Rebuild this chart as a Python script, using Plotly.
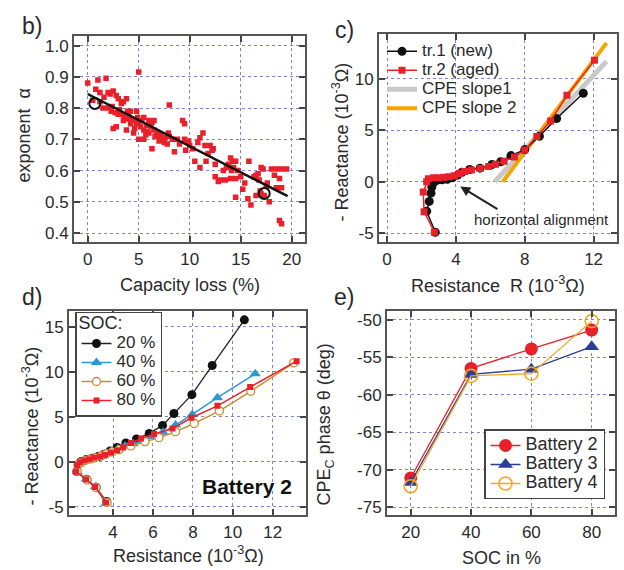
import plotly.graph_objects as go

# ---------------- Panel b data ----------------
b_loss = [0.0, 1.0, 1.8, 0.8, 1.2, 2.0, 2.5, 2.2, 2.8, 3.0, 3.5, 3.8, 3.3, 4.2, 4.8, 5.0, 8.0,
          1.2, 1.5, 2.0, 2.3, 2.7, 3.0, 3.3, 3.6, 4.0, 4.3, 4.5, 4.8, 5.0, 5.3, 5.5, 6.0, 6.3,
          6.5, 5.2, 5.5, 5.8, 6.0, 6.5, 6.8, 7.0, 7.3, 7.6, 8.0, 7.5, 7.8, 2.5, 2.8, 3.8, 4.5,
          5.0, 5.5, 6.3, 4.2, 3.5, 4.6, 5.8, 6.6, 7.0, 8.5, 9.3, 9.5, 9.5, 9.8, 10.0, 9.6, 10.3,
          9.0, 8.8, 11.0, 11.3, 11.5, 12.0, 12.3, 11.8, 11.0, 11.6, 12.5, 12.5, 12.8, 13.0, 13.5,
          13.3, 13.8, 14.0, 14.2, 13.8, 14.5, 14.3, 14.7, 14.5, 15.0, 14.0, 15.2, 14.5, 15.7,
          16.0, 15.8, 16.5, 16.7, 17.0, 16.8, 16.5, 17.0, 17.3, 17.8, 17.2, 18.0, 18.5, 19.0,
          19.5, 18.8, 18.5, 19.0, 18.8, 19.0, 17.5, 16.3, 10.5, 1.6, 2.4, 3.1, 4.0, 4.9, 6.2,
          7.2, 8.3, 9.9, 10.8, 12.2, 13.6, 14.1, 15.4, 16.9, 17.6, 18.3, 0.5, 3.9, 5.7, 7.9]
b_alpha = [0.88, 0.89, 0.895, 0.86, 0.85, 0.85, 0.855, 0.845, 0.84, 0.83, 0.82, 0.83, 0.815, 0.79,
           0.79, 0.915, 0.81, 0.82, 0.80, 0.80, 0.79, 0.785, 0.78, 0.78, 0.775, 0.78, 0.765, 0.76,
           0.75, 0.755, 0.76, 0.77, 0.76, 0.755, 0.76, 0.74, 0.73, 0.725, 0.72, 0.73, 0.72, 0.71,
           0.70, 0.705, 0.71, 0.69, 0.685, 0.735, 0.74, 0.73, 0.72, 0.70, 0.70, 0.67, 0.75, 0.76,
           0.735, 0.745, 0.71, 0.695, 0.66, 0.76, 0.75, 0.70, 0.69, 0.68, 0.665, 0.67, 0.685, 0.70,
           0.705, 0.72, 0.68, 0.68, 0.67, 0.655, 0.61, 0.63, 0.62, 0.58, 0.565, 0.57, 0.57, 0.60,
           0.62, 0.64, 0.63, 0.615, 0.63, 0.61, 0.60, 0.575, 0.58, 0.575, 0.54, 0.515, 0.51, 0.49,
           0.63, 0.585, 0.59, 0.61, 0.57, 0.52, 0.525, 0.52, 0.50, 0.605, 0.605, 0.605, 0.605,
           0.605, 0.575, 0.545, 0.545, 0.44, 0.43, 0.55, 0.58, 0.63, 0.835, 0.805, 0.795, 0.765,
           0.77, 0.74, 0.715, 0.70, 0.695, 0.69, 0.665, 0.61, 0.60, 0.56, 0.535, 0.56, 0.585,
           0.825, 0.79, 0.715, 0.72]
fit_loss = [0.0, 19.6]
fit_alpha = [0.845, 0.518]
mark_loss = [0.7, 17.3]
mark_alpha = [0.815, 0.527]

# ---------------- Panel c data ----------------
tr1_R = [2.8, 2.3, 2.45, 2.55, 2.6, 2.7, 2.9, 3.2, 3.5, 3.8, 4.1, 4.35, 4.8, 5.4, 6.1, 6.6, 7.2,
         8.0, 8.85, 9.85, 11.4]
tr1_X = [-4.9, -2.85, -1.9, -1.1, -0.5, -0.1, 0.15, 0.2, 0.25, 0.4, 0.65, 0.93, 1.2, 1.33, 1.68,
         1.95, 2.55, 3.13, 4.43, 6.15, 8.6]
tr2_R = [2.75, 2.15, 2.1, 2.3, 2.4, 2.7, 3.0, 3.3, 3.6, 3.9, 4.2, 4.5, 4.9, 5.4, 5.9, 6.3, 6.8,
         7.4, 8.0, 8.7, 9.5, 10.45, 12.05]
tr2_X = [-4.9, -2.9, -1.0, 0.0, 0.3, 0.4, 0.4, 0.45, 0.5, 0.6, 0.8, 1.0, 1.15, 1.3, 1.5, 1.7, 2.0,
         2.4, 3.1, 4.4, 5.9, 8.4, 11.8]
cpe1_R = [6.25, 12.75]
cpe1_X = [0.0, 11.7]
cpe2_R = [6.72, 12.75]
cpe2_X = [0.0, 13.5]

# ---------------- Panel d data ----------------
soc20_R = [3.68, 3.15, 2.68, 2.18, 2.25, 2.4, 2.65, 2.95, 3.25, 3.55, 3.85, 4.2, 4.64, 5.17, 5.81,
           6.48, 7.05, 7.95, 8.97, 10.58]
soc20_X = [-4.4, -2.83, -1.95, -1.07, -0.3, 0.05, 0.25, 0.4, 0.6, 0.85, 1.2, 1.6, 2.1, 2.54, 3.16,
           4.05, 5.37, 7.46, 10.7, 15.77]
soc40_R = [3.65, 3.12, 2.65, 2.2, 2.28, 2.45, 2.7, 3.0, 3.3, 3.6, 3.9, 4.25, 4.6, 5.0, 5.5, 6.0,
           6.5, 7.13, 7.97, 9.23, 11.12]
soc40_X = [-4.6, -2.8, -1.9, -1.1, -0.25, 0.05, 0.25, 0.4, 0.6, 0.85, 1.15, 1.45, 1.75, 2.0, 2.35,
           2.8, 3.3, 4.08, 5.26, 7.13, 9.78]
soc60_R = [3.7, 3.15, 2.7, 2.2, 2.25, 2.4, 2.6, 2.85, 3.1, 3.4, 3.65, 3.95, 4.3, 4.89, 5.6, 6.3,
           7.13, 8.07, 9.33, 10.9, 13.05]
soc60_X = [-4.5, -2.85, -2.0, -1.05, -0.3, -0.05, 0.15, 0.3, 0.45, 0.65, 0.9, 1.1, 1.35, 1.77,
           2.25, 2.69, 3.35, 4.27, 5.66, 7.83, 10.99]
soc80_R = [3.65, 3.1, 2.65, 2.15, 2.2, 2.35, 2.55, 2.8, 3.05, 3.35, 3.6, 3.9, 4.2, 4.5, 4.9, 5.4,
           6.05, 6.98, 7.93, 9.23, 10.87, 13.2]
soc80_X = [-4.5, -2.8, -1.95, -1.1, -0.35, -0.05, 0.15, 0.3, 0.45, 0.6, 0.8, 1.05, 1.3, 1.6, 2.1,
           2.6, 3.09, 3.7, 4.9, 6.22, 8.3, 11.18]

# ---------------- Panel e data ----------------
soc_levels = [20, 40, 60, 80]
batt2_phase = [-71.1, -56.5, -53.9, -51.4]
batt3_phase = [-71.7, -57.3, -56.6, -53.6]
batt4_phase = [-72.2, -57.5, -57.2, -50.2]

FONT = "Liberation Sans, Arial, Helvetica, sans-serif"
TXT = "#2a2a2a"
W, H = 624, 570
TICK = 17
TITLE = 18


def big(t, size):
    return f'<span style="font-size:{size}px">{t}</span>'


fig = go.Figure()

# Panel b
fig.add_trace(go.Scatter(x=b_loss, y=b_alpha, mode="markers", xaxis="x", yaxis="y",
                         marker=dict(symbol="square", size=5.5, color="#e8202a"), showlegend=False))
fig.add_trace(go.Scatter(x=fit_loss, y=fit_alpha, mode="lines", xaxis="x", yaxis="y",
                         line=dict(color="#111", width=2.5), showlegend=False))
fig.add_trace(go.Scatter(x=mark_loss, y=mark_alpha, mode="markers", xaxis="x", yaxis="y",
                         marker=dict(symbol="circle-open", size=11, color="#111", line=dict(width=2)),
                         showlegend=False))

# Panel c
fig.add_trace(go.Scatter(x=cpe1_R, y=cpe1_X, mode="lines", xaxis="x2", yaxis="y2",
                         line=dict(color="#c9c9c9", width=5), name=big("CPE slope1", 17),
                         legend="legend", legendrank=3))
fig.add_trace(go.Scatter(x=cpe2_R, y=cpe2_X, mode="lines", xaxis="x2", yaxis="y2",
                         line=dict(color="#f7a400", width=4), name=big("CPE slope 2", 17),
                         legend="legend", legendrank=4))
fig.add_trace(go.Scatter(x=tr1_R, y=tr1_X, mode="lines+markers", xaxis="x2", yaxis="y2",
                         line=dict(color="#111", width=1.5),
                         marker=dict(symbol="circle", size=9, color="#111"),
                         name=big("tr.1 (new)", 17), legend="legend", legendrank=1))
fig.add_trace(go.Scatter(x=tr2_R, y=tr2_X, mode="lines+markers", xaxis="x2", yaxis="y2",
                         line=dict(color="#e8202a", width=1.5),
                         marker=dict(symbol="square", size=7, color="#e8202a"),
                         name=big("tr.2 (aged)", 17), legend="legend", legendrank=2))

# Panel d
fig.add_trace(go.Scatter(x=soc20_R, y=soc20_X, mode="lines+markers", xaxis="x3", yaxis="y3",
                         line=dict(color="#222", width=1.3),
                         marker=dict(symbol="circle", size=9, color="#111"),
                         name=big("20 %", 17), legend="legend2"))
fig.add_trace(go.Scatter(x=soc40_R, y=soc40_X, mode="lines+markers", xaxis="x3", yaxis="y3",
                         line=dict(color="#2a98d6", width=1.5),
                         marker=dict(symbol="triangle-up", size=10, color="#2a98d6"),
                         name=big("40 %", 17), legend="legend2"))
fig.add_trace(go.Scatter(x=soc60_R, y=soc60_X, mode="lines+markers", xaxis="x3", yaxis="y3",
                         line=dict(color="#d08a2c", width=1.5),
                         marker=dict(symbol="circle", size=8, color="white",
                                     line=dict(color="#d08a2c", width=1.3)),
                         name=big("60 %", 17), legend="legend2"))
fig.add_trace(go.Scatter(x=soc80_R, y=soc80_X, mode="lines+markers", xaxis="x3", yaxis="y3",
                         line=dict(color="#e8202a", width=1.5),
                         marker=dict(symbol="square", size=6, color="#e8202a"),
                         name=big("80 %", 17), legend="legend2"))

# Panel e
fig.add_trace(go.Scatter(x=soc_levels, y=batt2_phase, mode="lines+markers", xaxis="x4", yaxis="y4",
                         line=dict(color="#e8202a", width=1.3),
                         marker=dict(symbol="circle", size=13, color="#e8202a"),
                         name=big("Battery 2", 18), legend="legend3"))
fig.add_trace(go.Scatter(x=soc_levels, y=batt3_phase, mode="lines+markers", xaxis="x4", yaxis="y4",
                         line=dict(color="#2b3f96", width=1.3),
                         marker=dict(symbol="triangle-up", size=13, color="#2b3f96"),
                         name=big("Battery 3", 18), legend="legend3"))
fig.add_trace(go.Scatter(x=soc_levels, y=batt4_phase, mode="lines+markers", xaxis="x4", yaxis="y4",
                         line=dict(color="#f5a623", width=1.3),
                         marker=dict(symbol="circle", size=13, color="rgba(255,255,255,0)",
                                     line=dict(color="#f5a623", width=1.6)),
                         name=big("Battery 4", 18), legend="legend3"))


def ax(domain, rng, tickvals, ticktext, anchor):
    return dict(domain=domain, range=rng, tickvals=tickvals, ticktext=ticktext, anchor=anchor,
                showline=True, linecolor="#555", linewidth=2, mirror="ticks",
                ticks="inside", ticklen=6, tickwidth=1.5, tickcolor="#444",
                showgrid=True, gridcolor="#7f83d2", griddash="dot", gridwidth=1,
                zeroline=False, tickfont=dict(family=FONT, size=TICK, color=TXT))


def px(v):
    return v / W


def py(v):
    return 1 - v / H


bx = [px(74), px(305)]
by = [py(243), py(36)]
cx = [px(379), px(617)]
cy = [py(243), py(34)]
dx = [px(69), px(306)]
dy = [py(517), py(312)]
ex = [px(387), px(615)]
ey = [py(517), py(312)]

layout = dict(
    width=W, height=H, margin=dict(l=0, r=0, t=0, b=0),
    paper_bgcolor="white", plot_bgcolor="white",
    font=dict(family=FONT, size=16, color=TXT),
    xaxis=ax(bx, [-1.34, 21.3], [0, 5, 10, 15, 20], ["0", "5", "10", "15", "20"], "y"),
    yaxis=ax(by, [0.371, 1.031], [0.4, 0.5, 0.6, 0.7, 0.8, 0.9, 1.0],
             ["0.4", "0.5", "0.6", "0.7", "0.8", "0.9", "1.0"], "x"),
    xaxis2=ax(cx, [-0.47, 13.36], [0, 4, 8, 12], ["0", "4", "8", "12"], "y2"),
    yaxis2=ax(cy, [-5.86, 14.37], [-5, 0, 5, 10], ["-5", "0", "5", "10"], "x2"),
    xaxis3=ax(dx, [1.79, 13.67], [4, 6, 8, 10, 12], ["4", "6", "8", "10", "12"], "y3"),
    yaxis3=ax(dy, [-5.92, 16.76], [-5, 0, 5, 10, 15], ["-5", "0", "5", "10", "15"], "x3"),
    xaxis4=ax(ex, [12.13, 87.74], [20, 40, 60, 80], ["20", "40", "60", "80"], "y4"),
    yaxis4=ax(ey, [-76.06, -48.84], [-75, -70, -65, -60, -55, -50],
              ["-75", "-70", "-65", "-60", "-55", "-50"], "x4"),
    legend=dict(x=px(382), y=py(37), xanchor="left", yanchor="top", bgcolor="rgba(255,255,255,0)",
                borderwidth=0, font=dict(family=FONT, size=11.5, color=TXT),
                traceorder="normal", itemwidth=30),
    legend2=dict(x=px(75), y=py(313), xanchor="left", yanchor="top", bgcolor="white",
                 bordercolor="#444", borderwidth=1.5, font=dict(family=FONT, size=10.5, color=TXT),
                 title=dict(text=big("SOC:", 18), font=dict(family=FONT, size=12, color=TXT)),
                 itemwidth=30),
    legend3=dict(x=px(605), y=py(431), xanchor="right", yanchor="top", bgcolor="white",
                 bordercolor="#444", borderwidth=1.5, font=dict(family=FONT, size=11.5, color=TXT),
                 itemwidth=30),
)
fig.update_layout(**layout)

annots = []


def paper_text(x, y, text, size=TITLE, angle=0, **kw):
    annots.append(dict(x=px(x), y=py(y), xref="paper", yref="paper", text=text, showarrow=False,
                       textangle=angle, xanchor="center", yanchor="middle",
                       font=dict(family=FONT, size=size, color=TXT), **kw))


paper_text(32, 26, "b)", size=23)
paper_text(344, 30, "c)", size=23)
paper_text(32, 298, "d)", size=23)
paper_text(344, 298, "e)", size=23)

paper_text(190, 286, "Capacity loss (%)")
paper_text(24, 136, "exponent  α", angle=-90)
paper_text(498, 285, "Resistance  R (10<sup>-3</sup>Ω)")
paper_text(341, 142, "- Reactance (10<sup>-3</sup>Ω)", angle=-90)
paper_text(188, 556, "Resistance (10<sup>-3</sup>Ω)")
paper_text(31, 428, "- Reactance (10<sup>-3</sup>Ω)", angle=-90)
paper_text(501, 560, "SOC in %")
paper_text(326, 426, "CPE<sub>C</sub> phase θ (deg)", angle=-90)

annots.append(dict(x=4.25, y=-0.45, xref="x2", yref="y2", ax=6.5, ay=-2.75, axref="x2",
                   ayref="y2", showarrow=True, arrowhead=2, arrowsize=1, arrowwidth=2,
                   arrowcolor="#222", text=""))
annots.append(dict(x=8.95, y=-3.65, xref="x2", yref="y2", text="horizontal alignment",
                   showarrow=False, font=dict(family=FONT, size=15, color=TXT)))
annots.append(dict(x=10.7, y=-2.75, xref="x3", yref="y3", text="<b>Battery 2</b>",
                   showarrow=False, font=dict(family=FONT, size=21, color="#111")))

fig.update_layout(annotations=annots)
fig.write_html("out.html")
